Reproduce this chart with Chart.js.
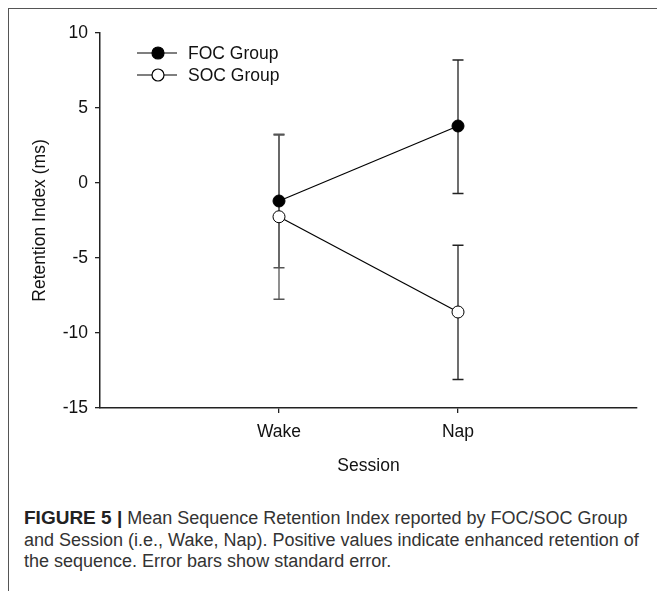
<!DOCTYPE html>
<html>
<head>
<meta charset="utf-8">
<script src="https://cdn.jsdelivr.net/npm/chart.js@4"></script>
<style>
  html, body { margin: 0; padding: 0; background: #fff; }
  body { width: 657px; height: 591px; position: relative; overflow: hidden; }
  #frame {
    position: absolute; left: 8px; top: 8px; width: 700px; height: 700px;
    border-top: 1.5px solid #555; border-left: 1.5px solid #555;
  }
  #wrap { position: absolute; left: 0; top: 0; width: 657px; height: 480px; }
  #caption {
    position: absolute; left: 24px; top: 507px;
    font-family: "Liberation Sans", Arial, sans-serif; font-size: 18px;
    line-height: 21.5px; color: #333; white-space: nowrap;
  }
  #caption b { color: #222; font-size: 19px; }
</style>
</head>
<body>
<div id="frame"></div>
<div id="wrap"><canvas id="chart"></canvas></div>
<div id="caption"><b>FIGURE 5 |</b> Mean Sequence Retention Index reported by FOC/SOC Group<br>and Session (i.e., Wake, Nap). Positive values indicate enhanced retention of<br>the sequence. Error bars show standard error.</div>
<script>
// values
const sessions = ["Wake", "Nap"];
const focMean = [-1.2, 3.8];
const focUpper = [3.2, 8.2];
const focLower = [-5.65, -0.7];
const socMean = [-2.25, -8.6];
const socUpper = [3.25, -4.15];
const socLower = [-7.75, -13.1];
const yTicks = [-15, -10, -5, 0, 5, 10];

const FONT = "'Liberation Sans', Arial, sans-serif";
const FSIZE = 17.5;

const toPoints = (arr) => arr.map((v, i) => ({ x: i + 1, y: v }));

// error bars drawn under the markers
const errorBars = {
  id: "errorBars",
  beforeDatasetsDraw(chart) {
    const { ctx, scales: { x, y } } = chart;
    const bars = [
      [focUpper, focLower],
      [socUpper, socLower],
    ];
    ctx.save();
    ctx.lineWidth = 1.3;
    bars.forEach(([up, low]) => {
      sessions.forEach((s, i) => {
        ctx.strokeStyle = i === 0 ? "#555" : "#222";
        const px = x.getPixelForValue(i + 1);
        const top = y.getPixelForValue(up[i]);
        const bot = y.getPixelForValue(low[i]);
        ctx.beginPath();
        ctx.moveTo(px, top);
        ctx.lineTo(px, bot);
        ctx.moveTo(px - 5.5, top);
        ctx.lineTo(px + 5.5, top);
        ctx.moveTo(px - 5.5, bot);
        ctx.lineTo(px + 5.5, bot);
        ctx.stroke();
      });
    });
    ctx.restore();
  },
};

// legend: line with marker, inside the plot at top left
const lineLegend = {
  id: "lineLegend",
  afterDraw(chart) {
    const { ctx, chartArea } = chart;
    ctx.save();
    chart.data.datasets.forEach((ds, i) => {
      const yy = chartArea.top + 20 + i * 22;
      const x0 = chartArea.left + 37;
      ctx.strokeStyle = "#000";
      ctx.lineWidth = 1.2;
      ctx.beginPath();
      ctx.moveTo(x0, yy);
      ctx.lineTo(x0 + 40, yy);
      ctx.stroke();
      ctx.beginPath();
      ctx.arc(x0 + 21, yy, 6, 0, Math.PI * 2);
      ctx.fillStyle = ds.pointBackgroundColor;
      ctx.fill();
      ctx.stroke();
      ctx.fillStyle = "#111";
      ctx.font = FSIZE + "px " + FONT;
      ctx.textBaseline = "middle";
      ctx.fillText(ds.label, x0 + 51, yy + 1);
    });
    ctx.restore();
  },
};

new Chart(document.getElementById("chart"), {
  type: "line",
  data: {
    datasets: [
      {
        label: "FOC Group",
        data: toPoints(focMean),
        borderColor: "#000",
        borderWidth: 1.2,
        pointRadius: 6,
        pointBackgroundColor: "#000",
        pointBorderColor: "#000",
        pointBorderWidth: 1,
      },
      {
        label: "SOC Group",
        data: toPoints(socMean),
        borderColor: "#000",
        borderWidth: 1.2,
        pointRadius: 6,
        pointBackgroundColor: "#fff",
        pointBorderColor: "#000",
        pointBorderWidth: 1,
      },
    ],
  },
  options: {
    responsive: true,
    maintainAspectRatio: false,
    animation: false,
    layout: { padding: { top: 33, right: 20, left: 0, bottom: 0 } },
    plugins: { legend: { display: false }, tooltip: { enabled: false } },
    scales: {
      x: {
        type: "linear",
        min: 0,
        max: 3,
        afterBuildTicks: (s) => { s.ticks = sessions.map((_, i) => ({ value: i + 1 })); },
        afterFit: (s) => { s.height = 72; },
        ticks: {
          callback: (v) => sessions[v - 1],
          color: "#111",
          padding: 9,
          font: { family: FONT, size: FSIZE },
        },
        grid: { drawOnChartArea: false, tickLength: 5, color: "#222", lineWidth: 1.3 },
        border: { color: "#222", width: 1.5 },
        title: {
          display: true,
          text: "Session",
          color: "#111",
          font: { family: FONT, size: FSIZE },
          padding: { top: 0, bottom: 3 },
        },
      },
      y: {
        min: -15,
        max: 10,
        afterBuildTicks: (s) => { s.ticks = yTicks.map((v) => ({ value: v })); },
        afterFit: (s) => { s.width = 100; },
        ticks: {
          color: "#111",
          padding: 7,
          font: { family: FONT, size: FSIZE },
        },
        grid: { drawOnChartArea: false, tickLength: 5, color: "#222", lineWidth: 1.3 },
        border: { color: "#222", width: 1.5 },
        title: {
          display: true,
          text: "Retention Index (ms)",
          color: "#111",
          font: { family: FONT, size: FSIZE },
          padding: { top: 30, bottom: 0 },
        },
      },
    },
  },
  plugins: [errorBars, lineLegend],
});
</script>
</body>
</html>
